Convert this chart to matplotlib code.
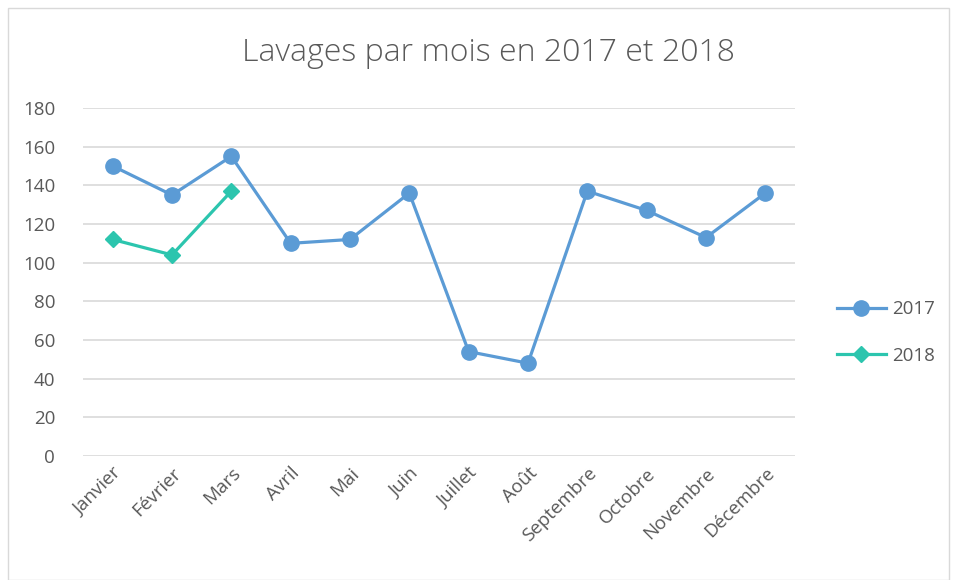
import matplotlib
matplotlib.use("Agg")
import matplotlib.pyplot as plt
from matplotlib.patches import Rectangle

months = ["Janvier", "Février", "Mars", "Avril", "Mai", "Juin", "Juillet",
          "Août", "Septembre", "Octobre", "Novembre", "Décembre"]
v2017 = [150, 135, 155, 110, 112, 136, 54, 48, 137, 127, 113, 136]
v2018 = [112, 104, 137]
yticks = [0, 20, 40, 60, 80, 100, 120, 140, 160, 180]

plt.rcParams['font.family'] = ['Open Sans', 'DejaVu Sans']
txt = '#595959'

fig = plt.figure(figsize=(9.57, 5.80), dpi=100)
fig.patches.append(Rectangle((8/957, 0), 1 - 16/957, 1 - 8/580, transform=fig.transFigure,
                             fill=False, edgecolor='#d9d9d9', linewidth=1))
ax = fig.add_axes([83/957, 1 - 456/580, 712/957, 348/580])

x = list(range(len(months)))
ax.plot(x, v2017, color='#5B9BD5', linewidth=2.3, marker='o', markersize=11,
        label='2017', zorder=3)
ax.plot(x[:len(v2018)], v2018, color='#2CC5AE', linewidth=2.3, marker='D', markersize=8,
        label='2018', zorder=3)

ax.set_xlim(-0.5, len(months) - 0.5)
ax.set_ylim(0, 180)
ax.set_yticks(yticks)
ax.set_yticklabels([str(t) for t in yticks], fontsize=13.5, color=txt)
ax.set_xticks(x)
ax.set_xticklabels(months, rotation=45, ha='right', rotation_mode='anchor',
                   fontsize=13.5, color=txt)
ax.grid(axis='y', color='#d9d9d9', linewidth=1.2)
ax.set_axisbelow(True)
for s in ax.spines.values():
    s.set_visible(False)
ax.tick_params(axis='y', length=0, pad=20)
ax.tick_params(axis='x', length=0, pad=6)

fig.text(488/957, 1 - 53/580, "Lavages par mois en 2017 et 2018", ha='center', va='center',
         fontsize=23, color=txt, fontweight='light')

leg = ax.legend(loc='center left', bbox_to_anchor=(1.035, 0.355), frameon=False,
                fontsize=13.5, handlelength=2.6, labelspacing=1.5, handletextpad=0.35)
for t in leg.get_texts():
    t.set_color(txt)

fig.savefig("out.png", dpi=100)
